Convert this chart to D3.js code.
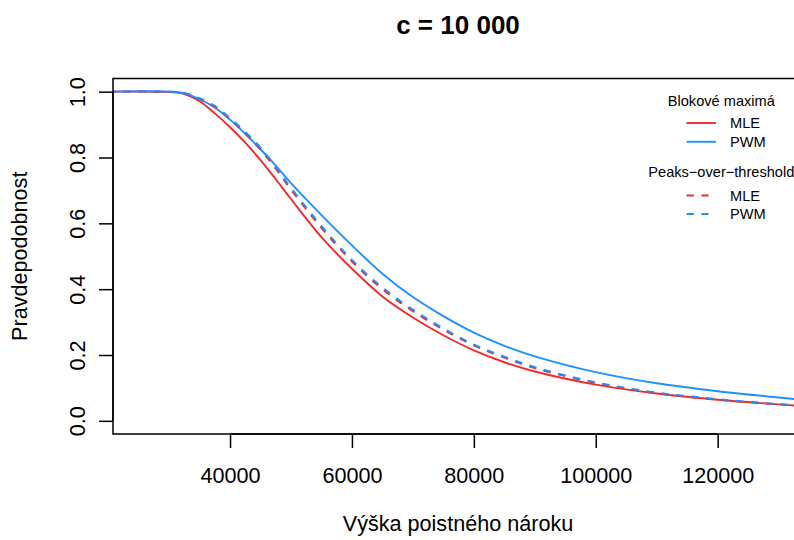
<!DOCTYPE html>
<html>
<head>
<meta charset="utf-8">
<script src="https://cdn.jsdelivr.net/npm/d3@7"></script>
<style>
  html, body { margin: 0; padding: 0; background: #fff; }
  svg { display: block; }
  text { font-family: "Liberation Sans", Arial, Helvetica, sans-serif; fill: #000; }
</style>
</head>
<body>
<svg id="chart" width="794" height="540"></svg>
<script>
// Claim size (x) and survival probability estimates for c = 10 000
const claimSize = [20000, 30000, 32500, 35000, 37500, 40000, 42500, 45000, 47500, 50000,
  55000, 60000, 65000, 70000, 75000, 80000, 85000, 90000, 100000, 110000, 120000, 130000, 135000];

// Block maxima, MLE
const bmMLE = [1.000, 0.999, 0.993, 0.971, 0.934, 0.892, 0.845, 0.792, 0.734, 0.674,
  0.558, 0.462, 0.378, 0.314, 0.260, 0.214, 0.178, 0.150, 0.110, 0.083, 0.064, 0.050, 0.043];
// Block maxima, PWM
const bmPWM = [1.000, 1.000, 0.995, 0.977, 0.952, 0.915, 0.872, 0.825, 0.775, 0.722,
  0.625, 0.533, 0.447, 0.376, 0.318, 0.268, 0.228, 0.196, 0.148, 0.114, 0.090, 0.071, 0.062];
// Peaks-over-threshold, MLE
const potMLE = [1.000, 0.999, 0.995, 0.978, 0.954, 0.916, 0.873, 0.824, 0.766, 0.702,
  0.586, 0.484, 0.400, 0.333, 0.277, 0.229, 0.192, 0.160, 0.115, 0.084, 0.064, 0.050, 0.044];
// Peaks-over-threshold, PWM
const potPWM = [1.000, 1.000, 0.996, 0.980, 0.957, 0.920, 0.878, 0.830, 0.772, 0.708,
  0.592, 0.489, 0.405, 0.338, 0.281, 0.232, 0.195, 0.163, 0.117, 0.086, 0.066, 0.051, 0.045];

const xTicks = [40000, 60000, 80000, 100000, 120000];
const yTicks = [0.0, 0.2, 0.4, 0.6, 0.8, 1.0];

const chartTitle = "c = 10 000";
const xLabel = "Výška poistného nároku";
const yLabel = "Pravdepodobnost";

const RED = "#EE2C2C", BLUE = "#1E90FF", DASH = "7.4,7.6";
const legendGroups = [
  { title: "Blokové maximá", items: [{ name: "MLE", color: RED, dash: null }, { name: "PWM", color: BLUE, dash: null }] },
  { title: "Peaks\u2212over\u2212threshold", items: [{ name: "MLE", color: RED, dash: DASH }, { name: "PWM", color: BLUE, dash: DASH }] }
];

const series = [
  { values: bmMLE, color: RED, dash: null },
  { values: bmPWM, color: BLUE, dash: null },
  { values: potMLE, color: RED, dash: DASH },
  { values: potPWM, color: BLUE, dash: DASH }
];

const svg = d3.select("#chart");
const plot = { left: 113, right: 803, top: 78.5, bottom: 434 };

const x = d3.scaleLinear().domain([20800, 134000]).range([plot.left, plot.right]);
const y = d3.scaleLinear().domain([-0.04, 1.04]).range([plot.bottom, plot.top]);

svg.append("defs").append("clipPath").attr("id", "plotClip")
  .append("rect")
  .attr("x", plot.left).attr("y", plot.top)
  .attr("width", plot.right - plot.left).attr("height", plot.bottom - plot.top);

// curves
const line = d3.line()
  .x((d, i) => x(claimSize[i]))
  .y(d => y(d))
  .curve(d3.curveCatmullRom.alpha(0.5));

const curves = svg.append("g").attr("clip-path", "url(#plotClip)");
series.forEach(s => {
  curves.append("path")
    .attr("d", line(s.values))
    .attr("fill", "none")
    .attr("stroke", s.color)
    .attr("stroke-width", 1.9)
    .attr("stroke-dasharray", s.dash);
});

// box
svg.append("rect")
  .attr("x", plot.left).attr("y", plot.top)
  .attr("width", plot.right - plot.left).attr("height", plot.bottom - plot.top)
  .attr("fill", "none").attr("stroke", "#000").attr("stroke-width", 1.5);

// x axis
const xAxis = d3.axisBottom(x).tickValues(xTicks).tickSize(14).tickPadding(0)
  .tickFormat(d3.format("d"));
const gx = svg.append("g").attr("transform", `translate(0,${plot.bottom})`).call(xAxis);
gx.select(".domain").attr("d", `M${x(xTicks[0])},0H${x(xTicks[xTicks.length - 1])}`)
  .attr("stroke", "#000").attr("stroke-width", 1.5);
gx.selectAll(".tick line").attr("stroke", "#000").attr("stroke-width", 1.5);
gx.selectAll(".tick text")
  .attr("y", 48.5).attr("dy", null)
  .style("font-size", "21.6px")
  .style("font-family", '"Liberation Sans", Arial, sans-serif');

// y axis
const yAxis = d3.axisLeft(y).tickValues(yTicks).tickSize(14).tickPadding(0)
  .tickFormat(d3.format(".1f"));
const gy = svg.append("g").attr("transform", `translate(${plot.left},0)`).call(yAxis);
gy.select(".domain").attr("d", `M0,${y(yTicks[0])}V${y(yTicks[yTicks.length - 1])}`)
  .attr("stroke", "#000").attr("stroke-width", 1.5);
gy.selectAll(".tick line").attr("stroke", "#000").attr("stroke-width", 1.5);
gy.selectAll(".tick text")
  .attr("x", null).attr("dy", null)
  .attr("text-anchor", "middle")
  .attr("transform", "translate(-28,0) rotate(-90)")
  .attr("y", 0)
  .style("font-size", "21.6px")
  .style("font-family", '"Liberation Sans", Arial, sans-serif');

// title and axis labels
const midX = (plot.left + plot.right) / 2;
svg.append("text").attr("x", midX).attr("y", 34)
  .attr("text-anchor", "middle").attr("font-weight", "bold").attr("font-size", 26)
  .text(chartTitle);
svg.append("text").attr("x", midX).attr("y", 531)
  .attr("text-anchor", "middle").attr("font-size", 21.6)
  .text(xLabel);
svg.append("text")
  .attr("transform", `translate(27,${(plot.top + plot.bottom) / 2}) rotate(-90)`)
  .attr("text-anchor", "middle").attr("font-size", 21.6)
  .text(yLabel);

// legend
const legend = svg.append("g");
const legCenter = 721.3;
const rowY = [[100.7, 123, 141.8], [171.7, 195.5, 214]];
legendGroups.forEach((g, gi) => {
  legend.append("text").attr("x", legCenter).attr("y", rowY[gi][0] + 5.2)
    .attr("text-anchor", "middle").attr("font-size", 14.6).text(g.title);
  g.items.forEach((it, ii) => {
    const yy = rowY[gi][ii + 1];
    const x1 = 686.5, x2 = it.dash ? 708.5 : 716;
    legend.append("line").attr("x1", x1).attr("x2", x2).attr("y1", yy).attr("y2", yy)
      .attr("stroke", it.color).attr("stroke-width", 1.9)
      .attr("stroke-dasharray", it.dash);
    legend.append("text").attr("x", 730).attr("y", yy + 5.2)
      .attr("font-size", 14.6).text(it.name);
  });
});
</script>
</body>
</html>
